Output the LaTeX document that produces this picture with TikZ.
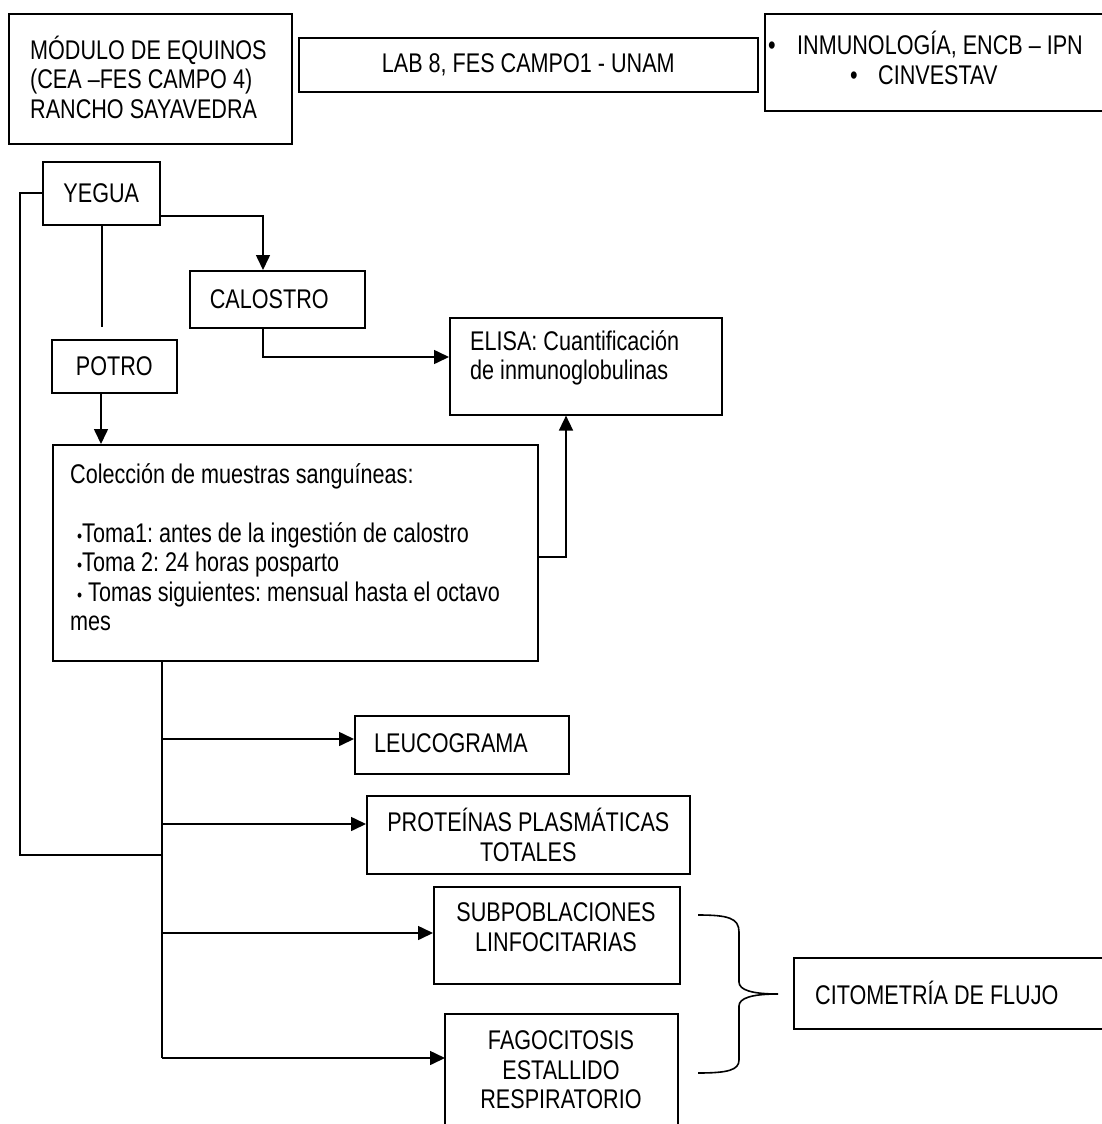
\documentclass[tikz,border=0pt]{standalone}
\usepackage{fontspec}
\setmainfont{Liberation Sans}[FakeStretch=0.8]
\usetikzlibrary{arrows.meta}
\frenchspacing
\tikzset{
  box/.style={draw, line width=1.6pt, rectangle, inner sep=0pt},
  txt/.style={inner sep=0pt, font=\fontsize{27}{29.5}\selectfont},
  conn/.style={line width=1.6pt},
  arr/.style={conn, -{Triangle[length=15pt,width=14pt]}},
}
\begin{document}
\begin{tikzpicture}[x=1pt,y=-1pt]
\useasboundingbox (0,0) rectangle (1102,1124);
% boxes
\draw[box] (9,14) rectangle (292,144);
\node[txt, anchor=west, align=left] (modt) at (30,77) {MÓDULO DE EQUINOS\\(CEA –FES CAMPO 4)\\RANCHO SAYAVEDRA};
\node[box, minimum width=459pt, minimum height=54pt, anchor=north west, txt] (lab) at (298,37) {LAB 8, FES CAMPO1 - UNAM};
\draw[box] (765,14) rectangle (1104,111);
\node[txt, anchor=west] (inm1) at (768,45) {\makebox[29pt][l]{•}INMUNOLOGÍA, ENCB – IPN};
\node[txt, anchor=west] (inm2) at (850,75) {\makebox[28pt][l]{•}CINVESTAV};

\node[box, txt, minimum width=117pt, minimum height=63pt, anchor=north west] (yegua) at (42,161) {YEGUA};
\node[box, txt, minimum width=175pt, minimum height=57pt, anchor=north west] (calostro) at (189,270) {\hspace{-16pt}CALOSTRO};
\node[box, txt, minimum width=125pt, minimum height=53pt, anchor=north west] (potro) at (51,339) {POTRO\hspace{8pt}};
\node[box, minimum width=272pt, minimum height=97pt, anchor=north west] (elisa) at (449,317) {};
\node[txt, anchor=west, align=left] (elisat) at (470,358) {ELISA: Cuantificación\\de inmunoglobulinas};
\node[box, minimum width=485pt, minimum height=216pt, anchor=north west] (col) at (52,444) {};
\node[txt, anchor=west, align=left] (colt) at (70,547) {Colección de muestras sanguíneas:\\[29.5pt]
\hspace{7pt}{\fontsize{18}{20}\selectfont•}Toma1: antes de la ingestión de calostro\\
\hspace{7pt}{\fontsize{18}{20}\selectfont•}Toma 2: 24 horas posparto\\
\hspace{7pt}{\fontsize{18}{20}\selectfont•} Tomas siguientes: mensual hasta el octavo\\
mes};
\node[box, minimum width=214pt, minimum height=58pt, anchor=north west] (leuco) at (354,715) {};
\node[txt, anchor=west] (leucot) at (374,743) {LEUCOGRAMA};
\node[box, txt, align=center, minimum width=323pt, minimum height=78pt, anchor=north west] (prot) at (366,795) {PROTEÍNAS PLASMÁTICAS\\TOTALES};
\node[box, minimum width=246pt, minimum height=97pt, anchor=north west] (subp) at (433,886) {};
\node[txt, align=center] (subpt) at (556,927) {SUBPOBLACIONES\\LINFOCITARIAS};
\draw[box] (445,1130) -- (445,1014) -- (678,1014) -- (678,1130);
\node[txt, align=center] (fagot) at (561,1070) {FAGOCITOSIS\\ESTALLIDO\\RESPIRATORIO};
\draw[box] (794,958) rectangle (1104,1029);
\node[txt, anchor=west] (cito) at (815,993) {CITOMETRÍA DE FLUJO};

% coordinates
\coordinate (ya) at (20,193);
\coordinate (yb) at (20,855);
\coordinate (tj) at (162,855);
\coordinate (ttop) at (162,660);
\coordinate (tbot) at (162,1058);
\coordinate (ppe) at (102,327);

% connectors
\draw[conn] (yegua.west |- ya) -- (ya) -- (yb) -- (tj);
\draw[arr] (yegua.east |- 0,216) -| (calostro.north -| 263,0);
\draw[conn] (yegua.south -| 102,0) -- (ppe);
\draw[arr] (calostro.south -| 263,0) |- (elisa.west |- 0,357);
\draw[arr] (potro.south -| 101,0) -- (col.north -| 101,0);
\draw[arr] (col.east |- 0,557) -| (elisa.south -| 566,0);
\draw[conn] (ttop) -- (tbot);
\draw[arr] (162,739) -- (leuco.west |- 0,739);
\draw[arr] (162,824) -- (prot.west |- 0,824);
\draw[arr] (162,933) -- (subp.west |- 0,933);
\draw[arr] (tbot) -- (445,1058);

% brace
\draw[line width=1.6pt] (698,915) .. controls (728,915) and (739,918) .. (739,932)
  -- (739,982) .. controls (739,990) and (752,994) .. (778,994)
  .. controls (752,994) and (739,998) .. (739,1006)
  -- (739,1060) .. controls (739,1070) and (728,1073) .. (698,1073);
\end{tikzpicture}
\end{document}
